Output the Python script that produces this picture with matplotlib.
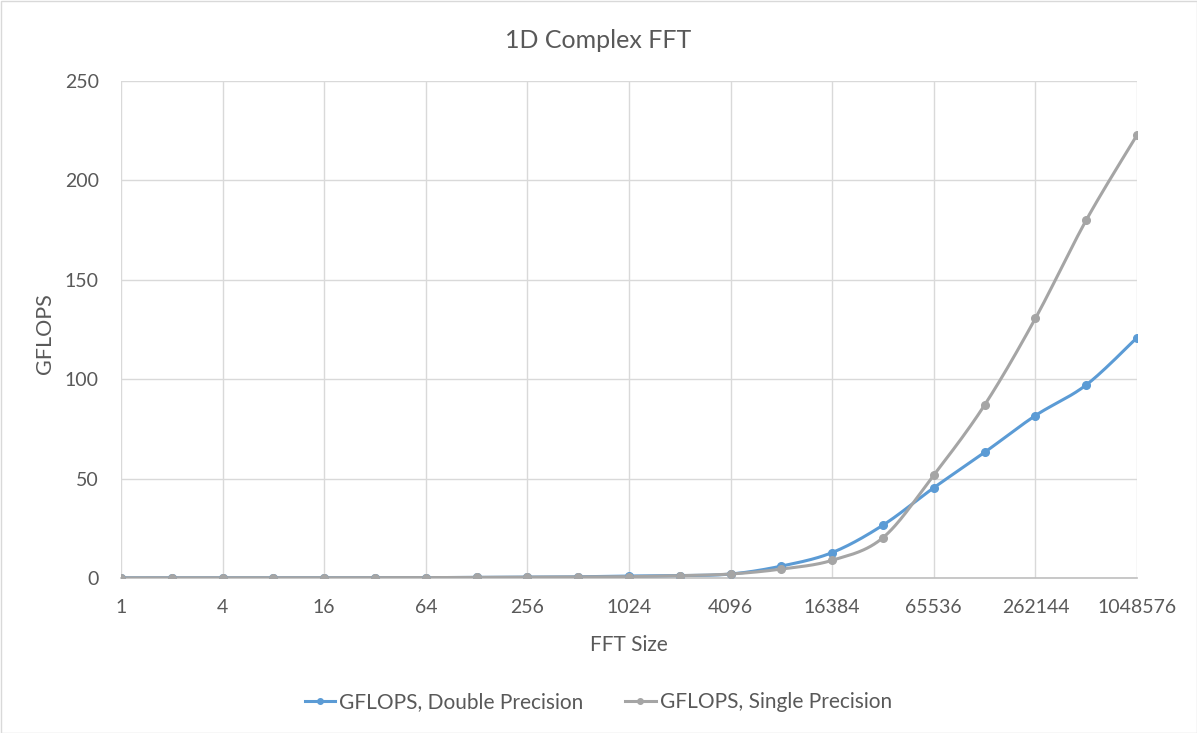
import numpy as np
import matplotlib
matplotlib.use("Agg")
import matplotlib.pyplot as plt
from matplotlib.patches import Rectangle

plt.rcParams['font.family'] = ['Lato', 'DejaVu Sans']

fft_sizes = [2 ** k for k in range(21)]
double_gflops = [0.1, 0.1, 0.1, 0.1, 0.1, 0.2, 0.2, 0.3, 0.4, 0.6, 1.0, 1.2, 2.0, 6.0, 12.8, 26.6, 45.4, 63.2, 81.7, 97.1, 120.9]
single_gflops = [0.1, 0.1, 0.1, 0.1, 0.1, 0.2, 0.2, 0.3, 0.4, 0.5, 0.7, 1.2, 2.0, 4.5, 8.9, 20.3, 51.8, 87.0, 130.6, 180.0, 222.8]
tick_labels = ["1", "4", "16", "64", "256", "1024", "4096", "16384", "65536", "262144", "1048576"]
series_names = ["GFLOPS, Double Precision", "GFLOPS, Single Precision"]
colors = ["#5B9BD5", "#A5A5A5"]
text_color = "#595959"


def smooth(xs, ys, n=30):
    """Catmull-Rom style smoothing (Excel-like) in log2(x) space."""
    t = np.log2(np.asarray(xs, float))
    y = np.asarray(ys, float)
    px = np.concatenate([[t[0]], t, [t[-1]]])
    py = np.concatenate([[y[0]], y, [y[-1]]])
    out_t, out_y = [], []
    for i in range(1, len(px) - 2):
        p0 = np.array([px[i-1], py[i-1]]); p1 = np.array([px[i], py[i]])
        p2 = np.array([px[i+1], py[i+1]]); p3 = np.array([px[i+2], py[i+2]])
        c1 = p1 + (p2 - p0) / 6.0
        c2 = p2 - (p3 - p1) / 6.0
        s = np.linspace(0, 1, n)[:, None]
        pts = (1 - s) ** 3 * p1 + 3 * (1 - s) ** 2 * s * c1 + 3 * (1 - s) * s ** 2 * c2 + s ** 3 * p2
        out_t.extend(pts[:, 0]); out_y.extend(pts[:, 1])
    return 2 ** np.array(out_t), np.array(out_y)


fig = plt.figure(figsize=(11.97, 7.33), dpi=100)
fig.patches.append(Rectangle((0.5 / 1197, 0.5 / 733), 1 - 1 / 1197, 1 - 1 / 733, transform=fig.transFigure,
                             fill=False, edgecolor="#d9d9d9", linewidth=1))
ax = fig.add_axes([121 / 1197, 1 - 578 / 733, (1137 - 121) / 1197, (578 - 81) / 733])

for ys, name, c in zip([double_gflops, single_gflops], series_names, colors):
    sx, sy = smooth(fft_sizes, ys)
    ax.plot(sx, sy, color=c, linewidth=2.2, solid_capstyle='round', zorder=3)
    ax.plot(fft_sizes, ys, linestyle='none', marker='o', markersize=5.5, color=c, zorder=4)
    ax.plot([], [], color=c, linewidth=2.2, marker='o', markersize=4, label=name)

ax.set_xscale('log', base=2)
ax.set_xlim(fft_sizes[0], fft_sizes[-1])
ax.set_ylim(0, 250)
ax.set_yticks(range(0, 251, 50))
ax.set_xticks(fft_sizes[::2])
ax.set_xticklabels(tick_labels)
ax.minorticks_off()
ax.grid(True, color="#d9d9d9", linewidth=1)
ax.set_axisbelow(True)
for s in ['top', 'right', 'left']:
    ax.spines[s].set_visible(False)
ax.spines['bottom'].set_color("#bfbfbf")
ax.spines['bottom'].set_linewidth(1.2)
ax.tick_params(length=0, labelsize=14, labelcolor=text_color)
ax.tick_params(axis='x', pad=15)
ax.tick_params(axis='y', pad=16)

ax.set_xlabel("FFT Size", fontsize=15, color=text_color)
ax.xaxis.set_label_coords(0.5, (578 - 645) / 497)
ax.xaxis.label.set_va('center')
ax.set_ylabel("GFLOPS", fontsize=15.5, color=text_color)
ax.yaxis.set_label_coords((45 - 121) / 1016, (578 - 334) / 497)
ax.yaxis.label.set_va('center')
fig.text(0.5, 1 - 40 / 733, "1D Complex FFT", ha='center', va='center', fontsize=18, color=text_color)

fig.legend(loc='center', bbox_to_anchor=(0.5, 1 - 702 / 733), ncol=2, frameon=False,
           fontsize=15, labelcolor=text_color, handlelength=1.45, columnspacing=2.0, handletextpad=0.2)

fig.savefig("out.png", dpi=100)
